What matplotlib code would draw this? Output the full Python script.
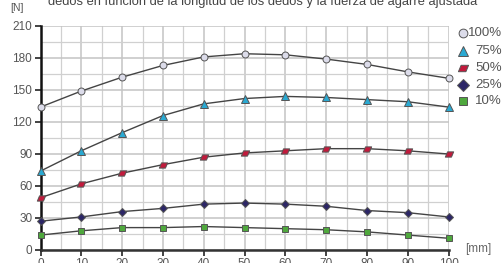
"""fuerza de agarre vs longitud de los dedos"""
import numpy as np
import matplotlib
matplotlib.use('Agg')
import matplotlib.pyplot as plt
from matplotlib.lines import Line2D
from matplotlib.path import Path

plt.rcParams['font.family'] = ['Liberation Sans', 'DejaVu Sans']

# datos
longitud = [0, 10, 20, 30, 40, 50, 60, 70, 80, 90, 100]
f100 = [134, 149, 162, 173, 181, 184, 183, 179, 174, 167, 161]
f75 = [74, 93, 110, 126, 137, 142, 144, 143, 141, 139, 134]
f50 = [49, 62, 72, 80, 87, 91, 93, 95, 95, 93, 90]
f25 = [27, 31, 36, 39, 43, 44, 43, 41, 37, 35, 31]
f10 = [14, 18, 21, 21, 22, 21, 20, 19, 17, 14, 11]
etiquetas = ['100%', '75%', '50%', '25%', '10%']
titulo = 'dedos en función de la longitud de los dedos y la fuerza de agarre ajustada'

# paralelogramo para la serie 50%
para = Path([(-0.95, -0.6), (0.45, -0.6), (0.95, 0.6), (-0.45, 0.6), (-0.95, -0.6)],
            [Path.MOVETO, Path.LINETO, Path.LINETO, Path.LINETO, Path.CLOSEPOLY])

estilos = [
    ('o', '#dcdcea', 5.0),
    ('^', '#2aa9d2', 5.5),
    (para, '#c21a3c', 6.0),
    ('D', '#2c2666', 4.5),
    ('s', '#4fa83d', 5.0),
]
series = [f100, f75, f50, f25, f10]

fig = plt.figure(figsize=(5.04, 2.63), dpi=100)
ax = fig.add_axes([40.5 / 504, 13 / 263, 408 / 504, 224 / 263])

for datos, (mk, col, ms) in zip(series, estilos):
    ax.plot(longitud, datos, color='#444444', lw=1.0, marker=mk, ms=ms,
            mfc=col, mec='#555555', mew=0.7, zorder=3, clip_on=False)

ax.set_xlim(0, 100)
ax.set_ylim(0, 210)
ax.set_xticks(np.arange(0, 101, 10))
ax.set_xticks(np.arange(5, 100, 10), minor=True)
ax.set_yticks(np.arange(0, 211, 30))
ax.set_yticks(np.arange(15, 210, 30), minor=True)
ax.grid(which='major', color='#c4c4c4', lw=1.1)
ax.grid(which='minor', color='#d0d0d0', lw=0.9)
ax.set_axisbelow(True)

for s in ['top', 'right']:
    ax.spines[s].set_visible(False)
ax.spines['left'].set_color('#111111')
ax.spines['left'].set_linewidth(1.8)
ax.spines['bottom'].set_color('#333333')
ax.spines['bottom'].set_linewidth(1.8)
ax.tick_params(which='major', length=4, width=1.2, color='#222222',
               labelsize=8.5, labelcolor='#555555', pad=2)
ax.tick_params(which='minor', length=0)

fig.text(0.521, 258 / 263, titulo, ha='center', va='baseline',
         fontsize=9.3, color='#444444')
fig.text(10 / 504, 1 - 8 / 263, '[N]', ha='left', va='center',
         fontsize=7.5, color='#555555')
fig.text(465 / 504, 1 - 249 / 263, '[mm]', ha='left', va='center',
         fontsize=8.5, color='#666666')

# leyenda manual
ys = [33, 51, 68, 85, 101]
for y, lab, (mk, col, ms) in zip(ys, etiquetas, estilos):
    yf = 1 - y / 263
    fig.add_artist(Line2D([463 / 504], [yf], marker=mk, ms=ms + 1.3,
                          mfc=col, mec='#555555', mew=0.7, ls='none'))
    fig.text(502 / 504, yf, lab, ha='right', va='center',
             fontsize=9.5, color='#555555')

fig.savefig('out.png', dpi=100)
